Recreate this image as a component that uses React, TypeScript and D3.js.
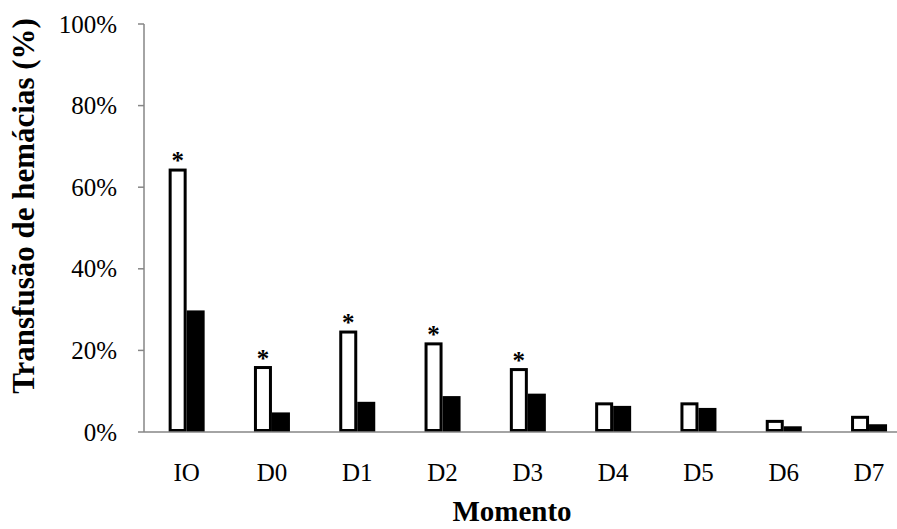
import React from 'react';
import * as d3 from 'd3';

// categories and series (percent)
const moments = ['IO', 'D0', 'D1', 'D2', 'D3', 'D4', 'D5', 'D6', 'D7'];
const groupA = [64.2, 15.8, 24.5, 21.6, 15.3, 6.9, 6.9, 2.6, 3.6];
const groupB = [29.8, 4.8, 7.4, 8.8, 9.4, 6.4, 5.9, 1.4, 1.9];
const significant = [true, true, true, true, true, false, false, false, false];
const yTicks = [0, 20, 40, 60, 80, 100];

const W = 897;
const H = 529;
const font = '"Liberation Serif", "Times New Roman", serif';

const App: React.FC = () => {
  const left = 144;
  const top = 24;
  const bottom = 432;

  const x = d3.scaleBand<string>()
    .domain(moments)
    .range([left, left + 9 * 85.3]);

  const y = d3.scaleLinear()
    .domain([0, 100])
    .range([bottom, top]);

  const barW = 18;

  return (
    <svg width={W} height={H} style={{ position: 'absolute', left: 0, top: 0, background: '#fff' }}>
      {/* y axis */}
      <line x1={left} x2={left} y1={y(100)} y2={bottom} stroke="#868686" strokeWidth={1.5} />
      {yTicks.map(t => (
        <g key={t}>
          <line x1={left - 6} x2={left} y1={y(t)} y2={y(t)} stroke="#868686" strokeWidth={1.5} />
          <text x={117} y={y(t)} dy="0.34em" textAnchor="end" fontFamily={font} fontSize={25} fill="#000">
            {t}%
          </text>
        </g>
      ))}

      {/* bars */}
      {moments.map((m, i) => {
        const cx = (x(m) ?? 0) + x.bandwidth() / 2;
        return (
          <g key={m}>
            <rect
              x={cx}
              y={y(groupB[i])}
              width={barW}
              height={bottom - y(groupB[i])}
              fill="#000"
            />
            <rect
              x={cx - barW + 1.5}
              y={y(groupA[i])}
              width={barW - 3}
              height={bottom - y(groupA[i]) - 1.5}
              fill="#fff"
              stroke="#000"
              strokeWidth={3}
            />
            {significant[i] && (
              <text x={cx - barW / 2} y={y(groupA[i]) - 1} textAnchor="middle" fontFamily={font} fontSize={25} fontWeight="bold" fill="#000">
                *
              </text>
            )}
            <text x={cx} y={481} textAnchor="middle" fontFamily={font} fontSize={25} fill="#000">
              {m}
            </text>
          </g>
        );
      })}

      {/* x axis */}
      <line x1={left} x2={W} y1={bottom} y2={bottom} stroke="#868686" strokeWidth={1.5} />

      {/* titles */}
      <text
        transform={`translate(34,206) rotate(-90)`}
        textAnchor="middle"
        fontFamily={font}
        fontSize={31}
        fontWeight="bold"
        fill="#000"
      >
        Transfusão de hemácias (%)
      </text>
      <text x={512} y={521} textAnchor="middle" fontFamily={font} fontSize={29} fontWeight="bold" fill="#000">
        Momento
      </text>
    </svg>
  );
};

export default App;
